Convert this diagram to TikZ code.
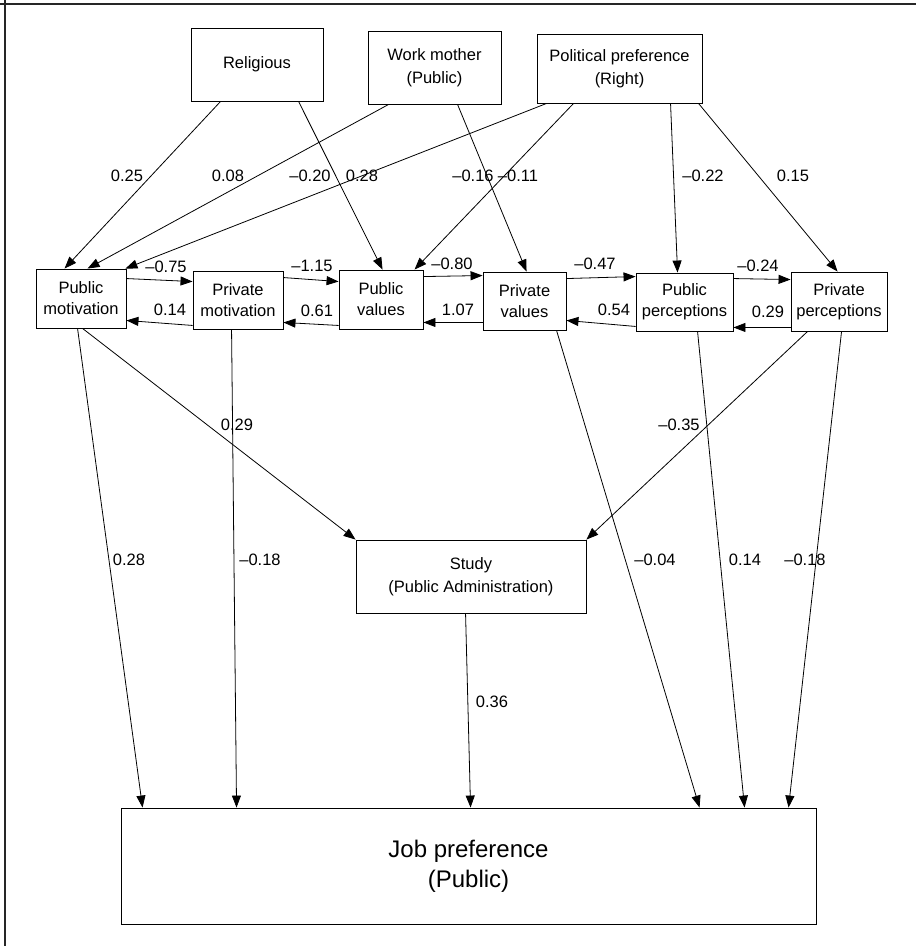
\documentclass[tikz,border=0pt]{standalone}
\usepackage{fontspec}
\setmainfont{Liberation Sans}
\usetikzlibrary{arrows.meta,calc}
\begin{document}
\begin{tikzpicture}[x=1pt,y=-1pt,
  box/.style={draw=black,line width=0.9pt,inner sep=0pt,align=center,font=\fontsize{16.5}{21}\selectfont},
  tbox/.style={box,font=\fontsize{16.5}{23}\selectfont},
  lbl/.style={inner sep=0pt,font=\fontsize{16.5}{20}\selectfont},
  arr/.style={line width=0.8pt,-{Triangle[length=12pt,width=9pt]}},
  frame/.style={line width=1.5pt,black!85},
]
\useasboundingbox (0,0) rectangle (916,946);
\draw[frame] (0,4) -- (916,4);
\draw[frame] (5,0) -- (5,946);

% top row
\node[tbox,minimum width=132pt,minimum height=73pt] (rel) at (257,64.5) {Religious};
\node[tbox,minimum width=133pt,minimum height=73pt] (wm) at (434.5,67.5) {Work mother\\(Public)};
\node[tbox,minimum width=165pt,minimum height=69pt] (pp) at (619.5,68.5) {Political preference\\(Right)};

% middle row
\node[box,minimum width=90pt,minimum height=59pt] (pm) at (81,298.5) {Public\\motivation};
\node[box,minimum width=90pt,minimum height=58pt] (privm) at (238,300) {Private\\motivation};
\node[box,minimum width=84pt,minimum height=59pt] (pv) at (381,299.5) {Public\\values};
\node[box,minimum width=83pt,minimum height=58pt] (privv) at (524.5,301) {Private\\values};
\node[box,minimum width=97pt,minimum height=58pt] (pubp) at (684.5,302) {Public\\perceptions};
\node[box,minimum width=96pt,minimum height=59pt] (privp) at (839,301.5) {Private\\perceptions};

% study and job
\node[tbox,minimum width=230pt,minimum height=73pt] (study) at (471,576.5) {Study\\(Public Administration)};
\node[box,minimum width=695pt,minimum height=116pt,font=\fontsize{24}{30}\selectfont] (job) at (468.5,866) {Job preference\\(Public)};

% top arrows
\draw[arr] ($(rel.south west)+(30,0)$) -- ($(pm.north west)+(29,0)$);
\draw[arr] ($(rel.south west)+(108,0)$) -- ($(pv.north west)+(44,0)$);
\draw[arr] ($(wm.south west)+(21,0)$) -- ($(pm.north west)+(52,0)$);
\draw[arr] ($(wm.south west)+(90,0)$) -- ($(privv.north west)+(44,0)$);
\draw[arr] ($(pp.south west)+(10,0)$) -- ($(pm.north east)+(-1,0)$);
\draw[arr] ($(pp.south west)+(37,0)$) -- ($(pv.north west)+(76,0)$);
\draw[arr] ($(pp.south west)+(134,0)$) -- ($(pubp.north west)+(42,0)$);
\draw[arr] ($(pp.south west)+(162,0)$) -- ($(privp.north west)+(47,0)$);

% horizontal arrows
\draw[arr] ($(pm.north east)+(0,10)$) -- ($(privm.north west)+(0,11)$);
\draw[arr] ($(privm.south west)+(0,-4)$) -- ($(pm.south east)+(0,-8)$);
\draw[arr] ($(privm.north east)+(0,7)$) -- ($(pv.north west)+(0,12)$);
\draw[arr] ($(pv.south west)+(0,-4)$) -- ($(privm.south east)+(0,-7)$);
\draw[arr] ($(pv.north east)+(0,7)$) -- ($(privv.north west)+(0,4)$);
\draw[arr] ($(privv.south west)+(0,-8)$) -- ($(pv.south east)+(0,-7)$);
\draw[arr] ($(privv.north east)+(0,7)$) -- ($(pubp.north west)+(0,4)$);
\draw[arr] ($(pubp.south west)+(0,-5)$) -- ($(privv.south east)+(0,-10)$);
\draw[arr] ($(pubp.north east)+(0,6)$) -- ($(privp.north west)+(0,8)$);
\draw[arr] ($(privp.south west)+(0,-4)$) -- ($(pubp.south east)+(0,-4)$);

% bottom arrows
\draw[arr] ($(pm.south west)+(42,0)$) -- ($(job.north west)+(22,0)$);
\draw[arr] ($(pm.south west)+(47,0)$) -- (study.north west);
\draw[arr] ($(privm.south west)+(39,0)$) -- ($(job.north west)+(116,0)$);
\draw[arr] ($(study.south west)+(110,0)$) -- ($(job.north west)+(350,0)$);
\draw[arr] ($(privv.south west)+(74,0)$) -- ($(job.north west)+(579,0)$);
\draw[arr] ($(pubp.south west)+(62,0)$) -- ($(job.north west)+(624,0)$);
\draw[arr] ($(privp.south west)+(17,0)$) -- (study.north east);
\draw[arr] ($(privp.south west)+(51,0)$) -- ($(job.north west)+(668,0)$);

% labels top
\node[lbl] (l1) at (127,176) {0.25};
\node[lbl] (l2) at (228,176) {0.08};
\node[lbl] (l3) at (310,176) {–0.20};
\node[lbl] (l4) at (362,176) {0.28};
\node[lbl] (l5) at (473,176) {–0.16};
\node[lbl] (l6) at (518,176) {–0.11};
\node[lbl] (l7) at (703,176) {–0.22};
\node[lbl] (l8) at (793,176) {0.15};

% labels middle
\node[lbl] (l9) at (166,267) {–0.75};
\node[lbl] (l10) at (170,310) {0.14};
\node[lbl] (l11) at (312,266) {–1.15};
\node[lbl] (l12) at (317,311) {0.61};
\node[lbl] (l13) at (452,264) {–0.80};
\node[lbl] (l14) at (458,310) {1.07};
\node[lbl] (l15) at (595,264) {–0.47};
\node[lbl] (l16) at (614,310) {0.54};
\node[lbl] (l17) at (758,266) {–0.24};
\node[lbl] (l18) at (768,312) {0.29};

% labels bottom
\node[lbl] (l19) at (237,425) {0.29};
\node[lbl] (l20) at (679,425) {–0.35};
\node[lbl] (l21) at (129,560) {0.28};
\node[lbl] (l22) at (260,560) {–0.18};
\node[lbl] (l23) at (655,560) {–0.04};
\node[lbl] (l24) at (745,560) {0.14};
\node[lbl] (l25) at (805,560) {–0.18};
\node[lbl] (l26) at (492,702) {0.36};
\end{tikzpicture}
\end{document}
